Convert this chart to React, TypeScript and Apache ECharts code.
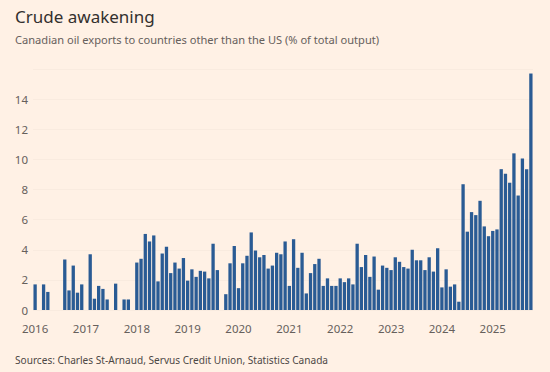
import React, { useEffect, useRef } from "react";
import * as echarts from "echarts";

const years = [2016, 2017, 2018, 2019, 2020, 2021, 2022, 2023, 2024, 2025];
const months = ["01", "02", "03", "04", "05", "06", "07", "08", "09", "10", "11", "12"];

const v2016 = [1.7, null, 1.7, 1.2, null, null, null, 3.35, 1.3, 2.95, 1.15, 1.7];
const v2017 = [null, 3.7, 0.75, 1.6, 1.4, 0.7, null, 1.75, null, 0.7, 0.7, null];
const v2018 = [3.15, 3.4, 5.05, 4.55, 4.95, 1.9, 3.75, 4.2, 2.45, 3.15, 2.75, 3.45];
const v2019 = [1.95, 2.7, 2.2, 2.6, 2.55, 2.1, 4.4, 2.65, null, 1.05, 3.1, 4.25];
const v2020 = [1.45, 3.1, 3.6, 5.15, 3.95, 3.5, 3.65, 2.75, 2.95, 3.8, 3.7, 4.55];
const v2021 = [1.6, 4.7, 2.8, 3.8, 1.1, 2.45, 3.05, 3.4, 1.6, 2.1, 1.6, 1.6];
const v2022 = [2.1, 1.85, 2.1, 1.7, 4.4, 2.85, 3.65, 2.2, 3.55, 1.35, 2.95, 2.8];
const v2023 = [2.65, 3.5, 3.2, 2.85, 2.75, 4.0, 3.3, 3.3, 2.65, 3.5, 2.55, 4.1];
const v2024 = [1.5, 2.7, 1.55, 1.7, 0.55, 8.35, 5.2, 6.5, 6.3, 7.25, 5.55, 4.9];
const v2025 = [5.25, 5.35, 9.35, 9.05, 8.45, 10.4, 7.6, 10.05, 9.35, 15.7];

const yTicks = [0, 2, 4, 6, 8, 10, 12, 14];

const values: (number | null)[] = [
  ...v2016, ...v2017, ...v2018, ...v2019, ...v2020,
  ...v2021, ...v2022, ...v2023, ...v2024, ...v2025,
];
const categories: string[] = [];
years.forEach((y) => months.forEach((m) => categories.push(`${y}-${m}`)));
categories.length = values.length;

const FONT = "'Noto Sans', sans-serif";

export default function App() {
  const ref = useRef<HTMLDivElement>(null);
  useEffect(() => {
    document.body.style.margin = "0";
    if (!ref.current) return;
    const chart = echarts.init(ref.current, undefined, { renderer: "svg" });
    chart.setOption({
      animation: false,
      backgroundColor: "#fff1e5",
      textStyle: { fontFamily: FONT },
      title: [
        {
          text: "Crude awakening",
          left: 10,
          top: 3,
          textStyle: { fontSize: 17, fontWeight: "normal", color: "#33302e", fontFamily: FONT },
        },
        {
          text: "Canadian oil exports to countries other than the US (% of total output)",
          left: 10,
          top: 29,
          textStyle: { fontSize: 11.1, fontWeight: "normal", color: "#66605c", fontFamily: FONT },
        },
        {
          text: "Sources: Charles St-Arnaud, Servus Credit Union, Statistics Canada",
          left: 10,
          top: 350,
          textStyle: { fontSize: 10.1, fontWeight: "normal", color: "#4d4845", fontFamily: FONT },
        },
      ],
      grid: { left: 33, right: 17, top: 69, bottom: 62 },
      xAxis: {
        type: "category",
        data: categories,
        axisLine: { show: false },
        axisTick: { show: false },
        axisLabel: {
          interval: (i: number) => i % 12 === 0,
          formatter: (v: string) => v.slice(0, 4),
          color: "#66605c",
          fontSize: 11.5,
          margin: 12,
          fontFamily: FONT,
        },
      },
      yAxis: {
        type: "value",
        min: 0,
        max: 16,
        interval: 2,
        axisLine: { show: false },
        axisTick: { show: false },
        splitLine: { lineStyle: { color: "#f9ebdf", width: 1 } },
        axisLabel: {
          formatter: (v: number) => (yTicks.includes(v) ? String(v) : ""),
          color: "#66605c",
          fontSize: 11.5,
          margin: 5,
          fontFamily: FONT,
        },
      },
      series: [
        {
          type: "bar",
          data: values,
          barCategoryGap: "22%",
          itemStyle: { color: "#2a5b94" },
        },
      ],
    });
    return () => chart.dispose();
  }, []);
  return <div ref={ref} style={{ width: 550, height: 372 }} />;
}
